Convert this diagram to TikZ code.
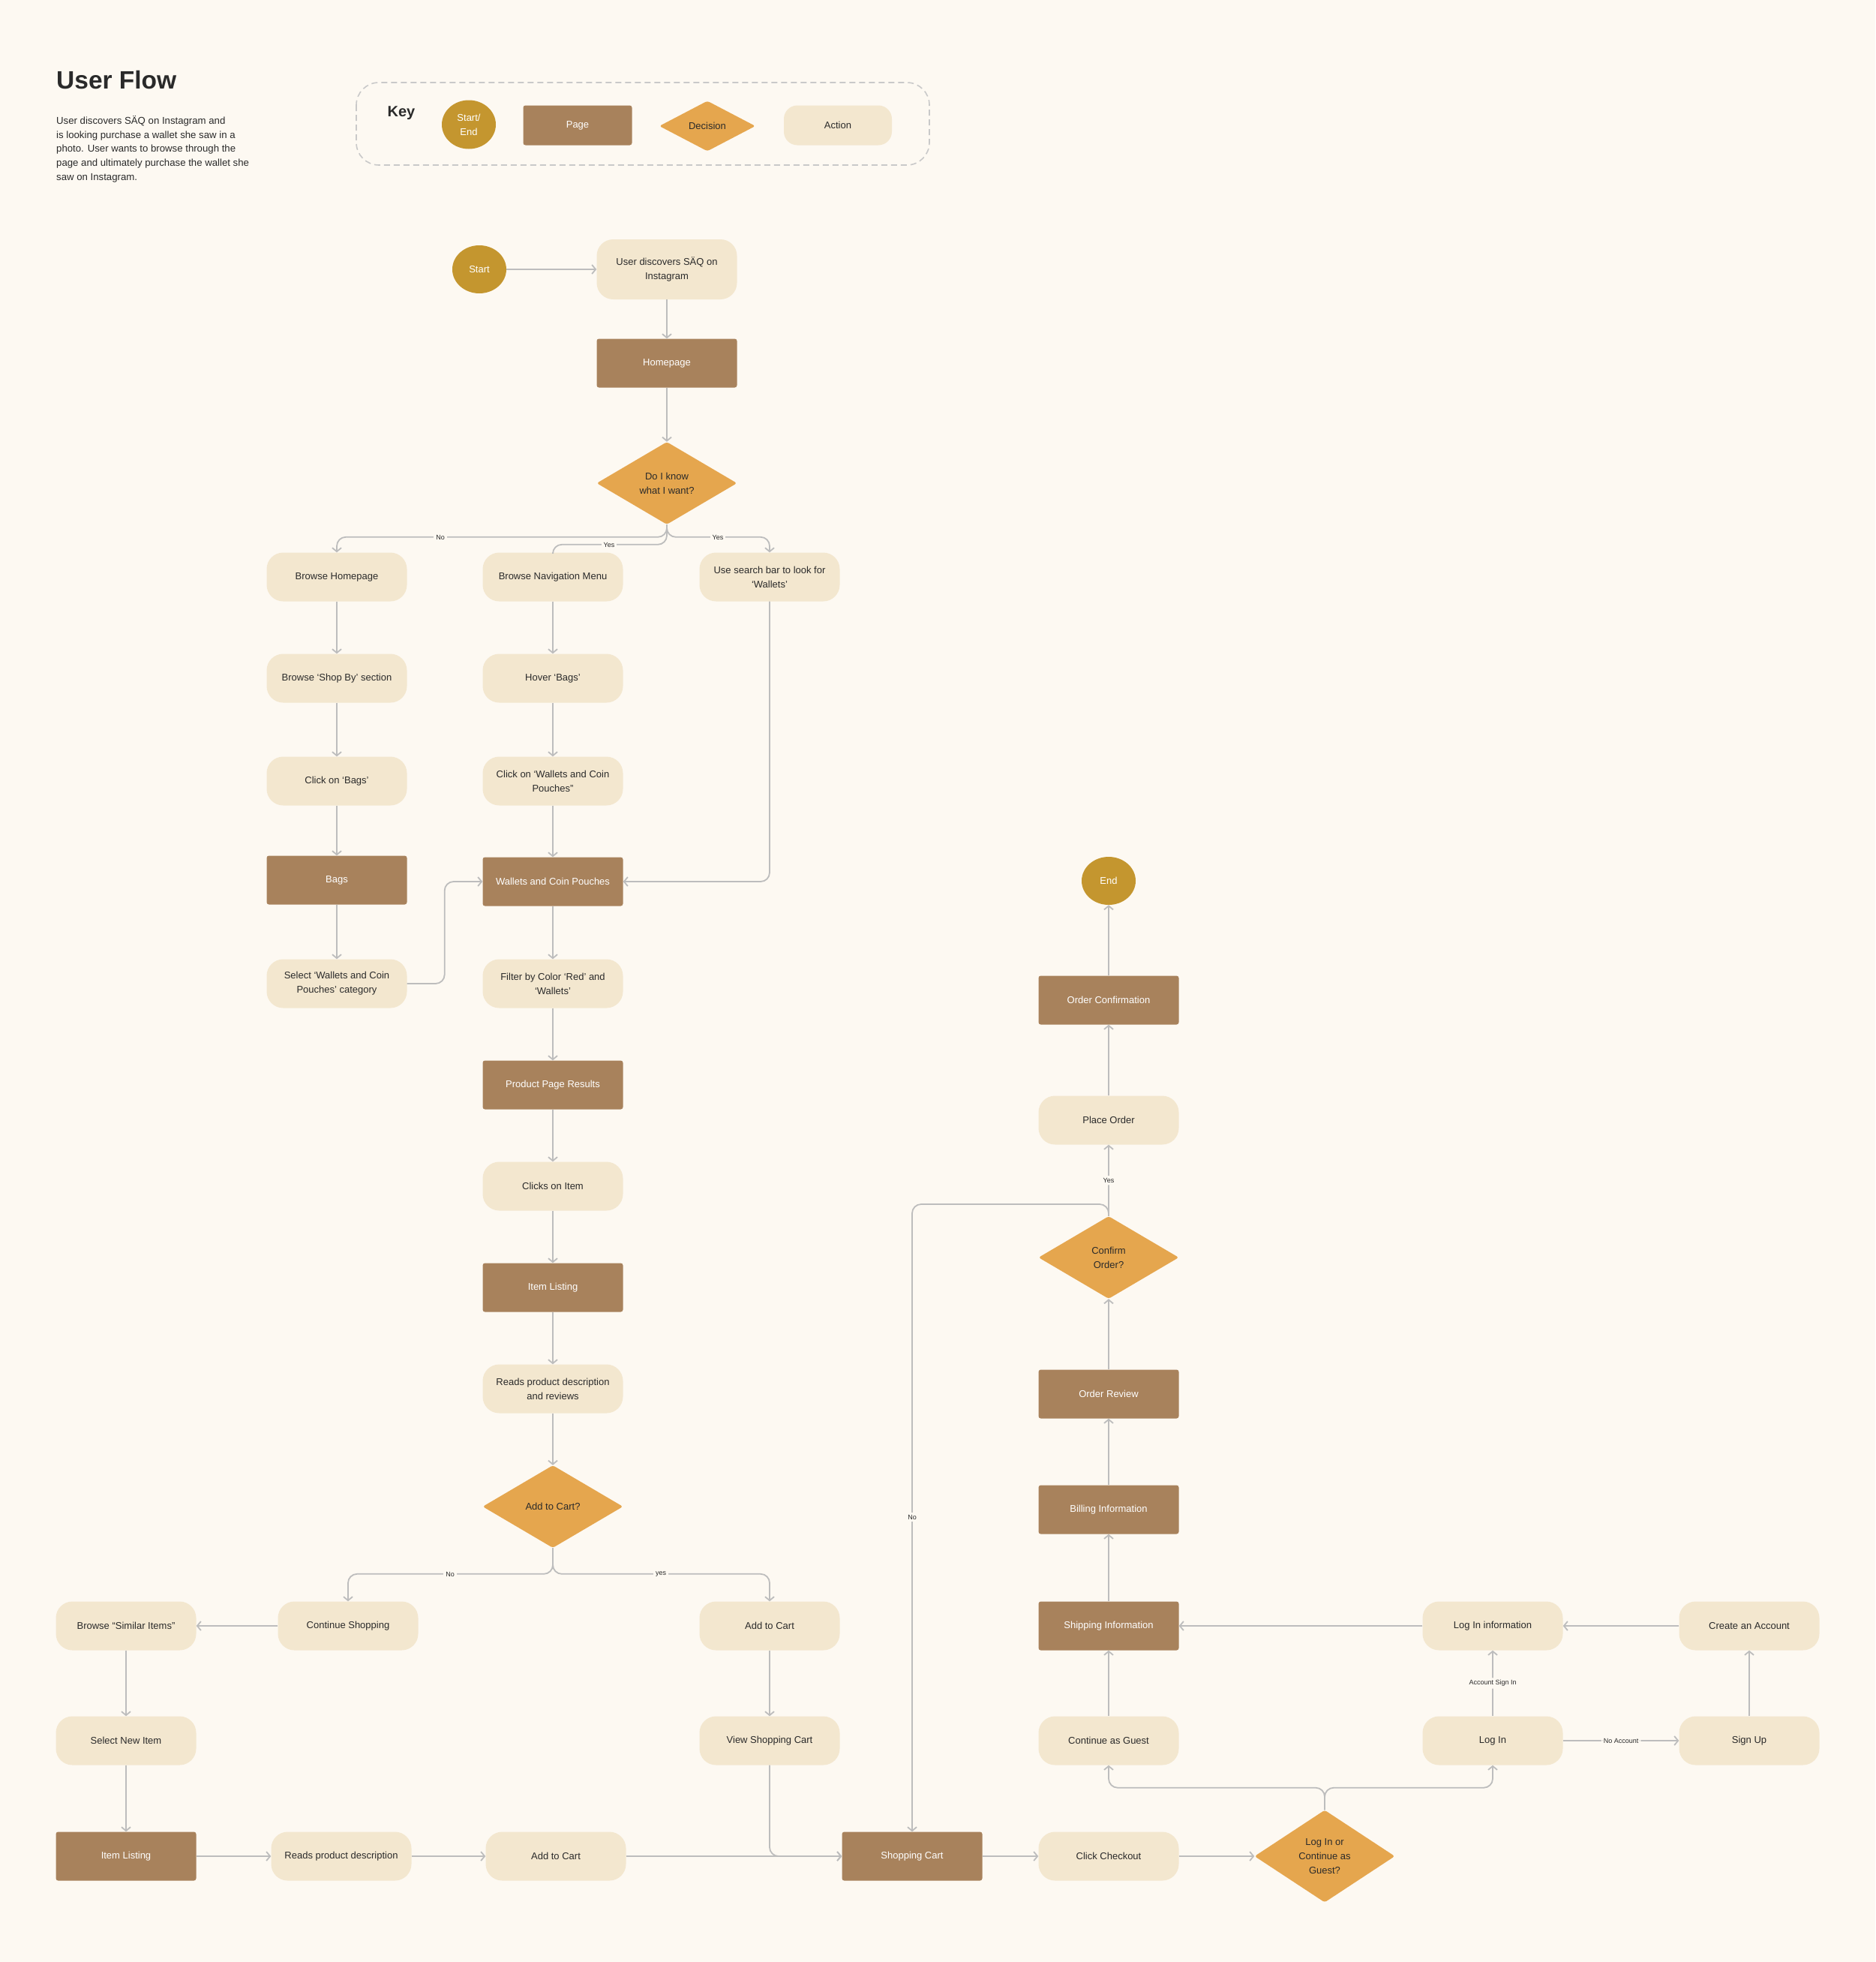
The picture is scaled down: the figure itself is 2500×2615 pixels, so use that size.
\documentclass[tikz,border=0pt]{standalone}
\usepackage{fontspec}
\setmainfont{Liberation Sans}
\usetikzlibrary{positioning,arrows.meta,shapes.geometric,calc}
\definecolor{bgc}{HTML}{FDF9F2}
\definecolor{gold}{HTML}{C4962F}
\definecolor{brown}{HTML}{A8825C}
\definecolor{orange}{HTML}{E5A64E}
\definecolor{beige}{HTML}{F3E7CF}
\definecolor{ink}{HTML}{2A2A2A}
\definecolor{linec}{HTML}{BDBDBD}
\definecolor{dashc}{HTML}{C9C9C9}
\newcommand{\boxfont}{\fontsize{13}{19}\selectfont}
\newcommand{\tagfont}{\fontsize{9}{11}\selectfont}
\tikzset{
  action/.style={rectangle,rounded corners=22pt,fill=beige,text=ink,
    minimum width=187pt,minimum height=65pt,align=center,inner sep=4pt,font=\boxfont},
  page/.style={rectangle,rounded corners=3pt,fill=brown,text=white,
    minimum width=187pt,minimum height=65pt,align=center,inner sep=4pt,font=\boxfont},
  decision/.style={diamond,rounded corners=3pt,fill=orange,text=ink,
    minimum width=187pt,minimum height=110pt,align=center,inner sep=0pt,font=\boxfont},
  terminal/.style={ellipse,fill=gold,text=white,minimum width=72pt,minimum height=64pt,
    align=center,inner sep=0pt,font=\boxfont},
  ar/.style={-{Straight Barb[length=5pt,width=12pt]},line width=1.8pt,draw=linec,rounded corners=12pt},
  ln/.style={line width=1.8pt,draw=linec,rounded corners=12pt},
  lbl/.style={fill=bgc,text=ink,font=\tagfont,inner sep=3pt},
  keybox/.style={draw=dashc,line width=1.6pt,dash pattern=on 8pt off 5pt,rounded corners=30pt},
}

\begin{document}
\begin{tikzpicture}[x=1pt,y=-1pt]
  \fill[bgc] (0,0) rectangle (2500,2615);
  \useasboundingbox (0,0) rectangle (2500,2615);

  % title and key
  \node[anchor=base west,inner sep=0pt,text=ink,font=\fontsize{33.5}{40}\selectfont\bfseries] (title) at (75,118) {User Flow};
  \node[anchor=north west,inner sep=0pt,align=left,text=ink,font=\fontsize{13.2}{18.8}\selectfont] (intro) at (75,154)
    {User discovers SÄQ on Instagram and\\is looking purchase a wallet she saw in a\\photo. User wants to browse through the\\page and ultimately purchase the wallet she\\saw on Instagram.};
  \draw[keybox] (475,110) rectangle (1239,220);
  \node[text=ink,font=\fontsize{20}{24}\selectfont\bfseries] (keylbl) at (535,151) {Key};
  \node[terminal,minimum height=65pt] (kterm) at (625,166) {Start/\\End};
  \node[page,minimum width=145pt,minimum height=53pt] (kpage) at (770,167) {Page};
  \node[decision,minimum width=128pt,minimum height=67pt] (kdec) at (943,168) {Decision};
  \node[action,minimum width=144pt,minimum height=53pt,rounded corners=18pt] (kact) at (1117,167) {Action};

  % main column
  \node[terminal] (start) at (639,359) {Start};
  \node[action,minimum height=80pt] (disc) at (889,359) {User discovers SÄQ on\\Instagram};
  \node[page] (home) at (889,484) {Homepage};
  \node[decision] (know) at (889,644) {Do I know\\what I want?};

  \node[action] (bhome) at (449,769) {Browse Homepage};
  \node[action] (bnav) at (737,769) {Browse Navigation Menu};
  \node[action] (search) at (1026,769) {Use search bar to look for\\‘Wallets’};
  \node[action] (shopby) at (449,904) {Browse ‘Shop By’ section};
  \node[action] (hover) at (737,904) {Hover ‘Bags’};
  \node[action] (cbags) at (449,1041) {Click on ‘Bags’};
  \node[action] (cwal) at (737,1041) {Click on ‘Wallets and Coin\\Pouches”};
  \node[page] (bags) at (449,1173) {Bags};
  \node[page] (wal) at (737,1175) {Wallets and Coin Pouches};
  \node[action] (selw) at (449,1311) {Select ‘Wallets and Coin\\Pouches’ category};
  \node[action] (filt) at (737,1311) {Filter by Color ‘Red’ and\\‘Wallets’};
  \node[page] (ppr) at (737,1446) {Product Page Results};
  \node[action] (clk) at (737,1581) {Clicks on Item};
  \node[page] (list) at (737,1716) {Item Listing};
  \node[action] (reads) at (737,1851) {Reads product description\\and reviews};
  \node[decision] (atc) at (737,2008) {Add to Cart?};

  % lower left
  \node[action] (similar) at (168,2167) {Browse “Similar Items”};
  \node[action] (cont) at (464,2167) {Continue Shopping};
  \node[action] (add) at (1026,2167) {Add to Cart};
  \node[action] (newitem) at (168,2320) {Select New Item};
  \node[action] (view) at (1026,2320) {View Shopping Cart};
  \node[page] (list2) at (168,2474) {Item Listing};
  \node[action] (reads2) at (455,2474) {Reads product description};
  \node[action] (add2) at (741,2474) {Add to Cart};
  \node[page] (cart) at (1216,2474) {Shopping Cart};
  \node[action] (chk) at (1478,2474) {Click Checkout};
  \node[decision,minimum height=123pt] (guestq) at (1766,2474) {Log In or\\Continue as\\Guest?};

  % checkout column
  \node[terminal] (end) at (1478,1174) {End};
  \node[page] (oconf) at (1478,1333) {Order Confirmation};
  \node[action] (place) at (1478,1493) {Place Order};
  \node[decision] (confirm) at (1478,1676) {Confirm\\Order?};
  \node[page] (review) at (1478,1858) {Order Review};
  \node[page] (bill) at (1478,2012) {Billing Information};
  \node[page] (ship) at (1478,2167) {Shipping Information};
  \node[action] (guest) at (1478,2320) {Continue as Guest};
  \node[action] (lginfo) at (1990,2167) {Log In information};
  \node[action] (create) at (2332,2167) {Create an Account};
  \node[action] (login) at (1990,2320) {Log In};
  \node[action] (signup) at (2332,2320) {Sign Up};

  % connectors
  \draw[ar] (start) -- (disc);
  \foreach \a/\b in {disc/home,home/know,bhome/shopby,shopby/cbags,cbags/bags,bags/selw,
      bnav/hover,hover/cwal,cwal/wal,wal/filt,filt/ppr,ppr/clk,clk/list,list/reads,reads/atc,
      similar/newitem,newitem/list2,add/view,list2/reads2,reads2/add2,add2/cart,cart/chk,chk/guestq,
      cont/similar,create/lginfo,lginfo/ship,guest/ship,ship/bill,bill/review,review/confirm,
      place/oconf,oconf/end,signup/create}
    \draw[ar] (\a) -- (\b);
  \draw[ar] (know.south) |- ([yshift=20.5pt]bhome.north) -- (bhome.north);
  \draw[ln] (know.south) |- ([yshift=10.5pt]bnav.north) -- (bnav.north);
  \draw[ar] (know.south) |- ([yshift=20.5pt]search.north) -- (search.north);
  \draw[ar] (selw.east) -- ++(50,0) |- (wal.west);
  \draw[ar] (search.south) |- (wal.east);
  \draw[ar] (atc.south) |- ([yshift=36.5pt]cont.north) -- (cont.north);
  \draw[ar] (atc.south) |- ([yshift=36.5pt]add.north) -- (add.north);
  \draw[ar] (view.south) |- (cart.west);
  \draw[ar] (guestq.north) |- ([yshift=-30pt]guest.south) -- (guest.south);
  \draw[ar] (guestq.north) |- ([yshift=-30pt]login.south) -- (login.south);
  \draw[ar] (confirm.north) |- (cart.north |- 0,1605) -- (cart.north);
  \draw[ar] (confirm) -- node[lbl] (yes4) {Yes} (place);
  \draw[ar] (login) -- node[lbl] (signin) {Account Sign In} (lginfo);
  \draw[ar] (login) -- node[lbl] (noacc) {No Account} (signup);

  % branch labels
  \node[lbl] (no1) at (587,716) {No};
  \node[lbl] (yes1) at (812,726) {Yes};
  \node[lbl] (yes2) at (957,716) {Yes};
  \node[lbl] (no2) at (600,2098) {No};
  \node[lbl] (yes3) at (881,2098) {yes};
  \node[lbl] (no3) at (1216,2022) {No};
\end{tikzpicture}
\end{document}
